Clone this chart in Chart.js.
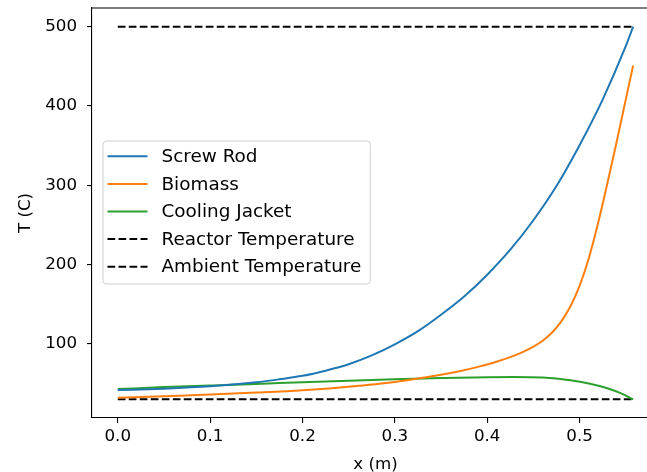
<!DOCTYPE html>
<html>
<head>
<meta charset="utf-8">
<script src="https://cdn.jsdelivr.net/npm/chart.js@4.4.1/dist/chart.umd.min.js"></script>
<style>
  html, body { margin: 0; padding: 0; background: #ffffff; overflow: hidden; width: 647px; height: 472px; }
  #wrap { position: absolute; left: 0; top: 0; width: 680px; height: 472px; }
</style>
</head>
<body>
<div id="wrap"><canvas id="c" width="680" height="472"></canvas></div>
<script>
// Temperature profiles along the reactor axis, x in metres, T in degrees C
const xScrewRod = [0, 0.05, 0.10, 0.15, 0.175, 0.20, 0.225, 0.25, 0.275, 0.30, 0.325, 0.35, 0.375, 0.40, 0.425, 0.45, 0.475, 0.50, 0.525, 0.55, 0.558];
const tScrewRod = [41.7, 43.5, 46.4, 51.5, 55.3, 59.7, 66.2, 74.3, 85.4, 99.4, 116, 136.7, 159.7, 187.2, 218.7, 255.9, 299, 350.5, 408, 475.3, 500];

const xBiomass = [0, 0.05, 0.10, 0.15, 0.20, 0.25, 0.30, 0.35, 0.37, 0.39, 0.41, 0.43, 0.44, 0.45, 0.46, 0.47, 0.48, 0.49, 0.50, 0.51, 0.52, 0.53, 0.54, 0.55, 0.558];
const tBiomass = [32, 34, 36, 38.5, 41.5, 46, 52, 61, 65.5, 71, 77.5, 85.5, 90.5, 96.5, 104, 114, 128, 147, 173, 208, 252, 302, 354, 408, 451];

const xJacket = [0, 0.05, 0.10, 0.15, 0.20, 0.25, 0.30, 0.35, 0.40, 0.43, 0.46, 0.49, 0.51, 0.53, 0.545, 0.558];
const tJacket = [43, 45.5, 47.5, 49.5, 51.5, 53.5, 55.3, 56.8, 58, 58.3, 57.5, 54, 50, 44, 37.5, 30];

const xBounds = [0, 0.558];
const tReactor = [500, 500];
const tAmbient = [30, 30];

const labels = ['Screw Rod', 'Biomass', 'Cooling Jacket', 'Reactor Temperature', 'Ambient Temperature'];
const xTickValues = [0.0, 0.1, 0.2, 0.3, 0.4, 0.5];
const yTickValues = [100, 200, 300, 400, 500];

const FONT = 'DejaVu Sans';
const FS = 16.7;
const LEGEND_FS = 18.4;

function pts(xs, ys) { return xs.map((x, i) => ({ x: x, y: ys[i] })); }

function series(label, xs, ys, color, dash) {
  return {
    label: label,
    data: pts(xs, ys),
    borderColor: color,
    backgroundColor: color,
    borderWidth: 2,
    borderDash: dash || [],
    pointRadius: 0,
    fill: false,
    cubicInterpolationMode: 'monotone'
  };
}

// Top spine of the axes box (the right side runs past the page edge)
const framePlugin = {
  id: 'frame',
  afterDatasetsDraw(chart) {
    const { ctx, chartArea: a } = chart;
    ctx.save();
    ctx.strokeStyle = '#000';
    ctx.lineWidth = 1.1;
    ctx.beginPath();
    ctx.moveTo(a.left, a.top);
    ctx.lineTo(chart.width, a.top);
    ctx.stroke();
    ctx.restore();
  }
};

// Boxed legend inside the axes, left side, vertically centred
const boxLegend = {
  id: 'boxLegend',
  afterDraw(chart) {
    const { ctx, chartArea: a } = chart;
    const ds = chart.data.datasets;
    ctx.save();
    ctx.font = LEGEND_FS + 'px "' + FONT + '"';
    let maxW = 0;
    ds.forEach(d => { maxW = Math.max(maxW, ctx.measureText(d.label).width); });
    const rowH = 27.6;
    const boxL = a.left + 11;
    const handleL = boxL + 4.5, handleR = handleL + 40;
    const textX = handleR + 14;
    const boxW = textX + maxW + 9 - boxL;
    const boxH = rowH * ds.length + 5;
    const boxT = (a.top + a.bottom) / 2 - boxH / 2 - 0.5;
    const r = 3.5;
    ctx.beginPath();
    ctx.moveTo(boxL + r, boxT);
    ctx.arcTo(boxL + boxW, boxT, boxL + boxW, boxT + boxH, r);
    ctx.arcTo(boxL + boxW, boxT + boxH, boxL, boxT + boxH, r);
    ctx.arcTo(boxL, boxT + boxH, boxL, boxT, r);
    ctx.arcTo(boxL, boxT, boxL + boxW, boxT, r);
    ctx.closePath();
    ctx.fillStyle = 'rgba(255,255,255,0.8)';
    ctx.fill();
    ctx.strokeStyle = '#d0d0d0';
    ctx.lineWidth = 1;
    ctx.stroke();
    ctx.textBaseline = 'middle';
    ctx.textAlign = 'left';
    ds.forEach((d, i) => {
      const cy = boxT + 15.3 + i * rowH;
      ctx.beginPath();
      ctx.setLineDash(d.borderDash || []);
      ctx.strokeStyle = d.borderColor;
      ctx.lineWidth = 2;
      ctx.moveTo(handleL, cy);
      ctx.lineTo(handleR, cy);
      ctx.stroke();
      ctx.setLineDash([]);
      ctx.fillStyle = '#000';
      ctx.fillText(d.label, textX, cy + 1);
    });
    ctx.restore();
  }
};

const tickFont = { family: FONT, size: FS };

new Chart(document.getElementById('c'), {
  type: 'line',
  data: {
    datasets: [
      series(labels[0], xScrewRod, tScrewRod, '#1f77b4'),
      series(labels[1], xBiomass, tBiomass, '#ff7f0e'),
      series(labels[2], xJacket, tJacket, '#2ca02c'),
      series(labels[3], xBounds, tReactor, '#000000', [7.7, 3.3]),
      series(labels[4], xBounds, tAmbient, '#000000', [7.7, 3.3])
    ]
  },
  options: {
    responsive: false,
    devicePixelRatio: 1,
    animation: false,
    layout: { padding: { left: 0, top: 8, right: 21, bottom: 0 } },
    plugins: { legend: { display: false }, tooltip: { enabled: false } },
    scales: {
      x: {
        type: 'linear',
        min: -0.0279,
        max: 0.586,
        afterBuildTicks: s => { s.ticks = xTickValues.map(v => ({ value: v })); },
        afterFit: s => { s.height = 54; s.paddingLeft = 0; s.paddingRight = 0; },
        ticks: { font: tickFont, color: '#000', padding: 4, callback: v => v.toFixed(1), maxRotation: 0 },
        grid: { display: true, drawOnChartArea: false, drawTicks: true, tickLength: 5, color: '#000', lineWidth: 1.1 },
        border: { display: true, color: '#000', width: 1.1 },
        title: { display: true, text: 'x (m)', font: { family: FONT, size: FS }, color: '#000', padding: { top: 0, bottom: -3 } }
      },
      y: {
        type: 'linear',
        min: 6.5,
        max: 523.5,
        afterBuildTicks: s => { s.ticks = yTickValues.map(v => ({ value: v })); },
        afterFit: s => { s.width = 92; s.paddingTop = 0; s.paddingBottom = 0; },
        ticks: { font: tickFont, color: '#000', padding: 10, callback: v => String(v) },
        grid: { display: true, drawOnChartArea: false, drawTicks: true, tickLength: 5, color: '#000', lineWidth: 1.1 },
        border: { display: true, color: '#000', width: 1.1 },
        title: { display: true, text: 'T (C)', font: { family: FONT, size: FS }, color: '#000', padding: { top: 16, bottom: 0 } }
      }
    }
  },
  plugins: [framePlugin, boxLegend]
});
</script>
</body>
</html>
